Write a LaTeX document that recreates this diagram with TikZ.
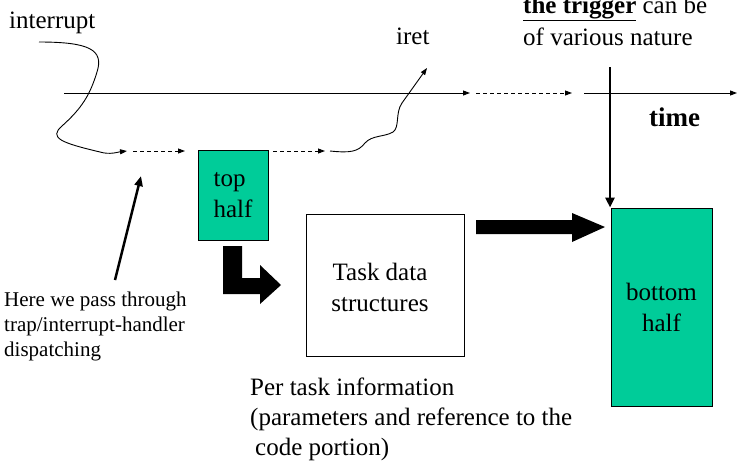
\documentclass[tikz,border=0pt]{standalone}
\usepackage{fontspec}
\setmainfont{Liberation Serif}
\usetikzlibrary{arrows.meta}
\definecolor{halfgreen}{HTML}{00CC99}
\begin{document}
\begin{tikzpicture}[x=1pt,y=-1pt,
  big/.style={font=\fontsize{25}{31}\selectfont},
  small/.style={font=\fontsize{21}{25}\selectfont},
  thin/.style={line width=0.9pt},
  tip/.style={-{Triangle[length=7pt,width=5pt]}},
  dashline/.style={thin,dash pattern=on 4pt off 3pt},
  greenbox/.style={draw=black,line width=1pt,fill=halfgreen,inner sep=0pt,big,align=center},
  whitebox/.style={draw=black,line width=1pt,fill=white,inner sep=0pt,big,align=center},
  txt/.style={inner sep=0pt,anchor=base west},
  blockarrow/.style={fill=black,draw=none}
]
\useasboundingbox (0,0) rectangle (738,464);

% timeline coordinates
\coordinate (tl0) at (64,93);
\coordinate (tl1) at (470,93);
\coordinate (dl0) at (476,93);
\coordinate (dl1) at (572,93);
\coordinate (tr0) at (584,93);
\coordinate (tr1) at (737,93);
\draw[thin,tip] (tl0) -- (tl1);
\draw[dashline,tip] (dl0) -- (dl1);
\draw[thin,tip] (tr0) -- (tr1);

% boxes
\node[greenbox,minimum width=70pt,minimum height=90pt,align=left] (top) at (233,195) {top\\half};
\node[whitebox,minimum width=158pt,minimum height=142pt] (task) at (385,285) {};
\node[inner sep=0pt,big,align=center] (tasklbl) at (380,287) {Task data\\structures};
\node[greenbox,minimum width=101pt,minimum height=198pt] (bottom) at (661.5,307) {bottom\\ half};

% texts (base anchor = baseline of last line)
\node[txt,big] (interrupt) at (9,28) {interrupt};
\node[txt,big] (iret) at (396,44) {iret};
\node[txt,font=\fontsize{25}{32}\selectfont,align=left] (trigger) at (523,45) {\textbf{\underline{the trigger}} can be\\of various nature};
\node[txt,font=\fontsize{27}{31}\selectfont\bfseries] (time) at (649,126) {time};
\node[txt,small,align=left] (here) at (4,356) {Here we pass through\\trap/interrupt-handler\\dispatching};
\node[txt,font=\fontsize{25}{30}\selectfont,align=left] (per) at (250,455) {Per task information\\(parameters and reference to the\\\hspace*{5pt}code portion)};

% interrupt path
\coordinate (i0) at (39,42);
\coordinate (i1) at (127,151);
\draw[thin,tip] (i0) .. controls (90,42) and (104,50) .. (97,72)
  .. controls (90,95) and (82,108) .. (62,126)
  .. controls (48,138) and (62,143) .. (100,152)
  .. controls (110,155) and (118,152) .. (i1);

% dashed arrows
\coordinate (da0) at (133,151);
\coordinate (da1) at (185,151);
\draw[dashline,tip] (da0) -- (da1);
\coordinate (db0) at (273,151);
\coordinate (db1) at (325,151);
\draw[dashline,tip] (db0) -- (db1);

% iret path
\coordinate (r0) at (330,151);
\coordinate (r1) at (427,68);
\draw[thin,tip] (r0) .. controls (350,153) and (358,152) .. (365,143)
  .. controls (372,135) and (385,137) .. (393,132)
  .. controls (400,127) and (395,113) .. (402,103) -- (r1);

% "here" arrow
\coordinate (h0) at (115,280);
\coordinate (h1) at (141,176);
\draw[line width=2.5pt,-{Triangle[length=10pt,width=8pt]}] (h0) -- (h1);

% trigger arrow
\coordinate (trig) at (610,67);
\draw[line width=2.8pt,-{Triangle[length=10pt,width=9pt]}] (trig) -- (trig |- bottom.north);

% L block arrow from top half to task data
\fill[blockarrow] (223,246) -- (242,246) -- (242,278) -- (260,278) -- (260,265)
  -- (281,285) -- (260,304) -- (260,294) -- (223,294) -- cycle;

% block arrow from task data to bottom half
\fill[blockarrow] (476,220) -- (572,220) -- (572,213) -- (605,227) -- (572,242)
  -- (572,234) -- (476,234) -- cycle;
\end{tikzpicture}
\end{document}
